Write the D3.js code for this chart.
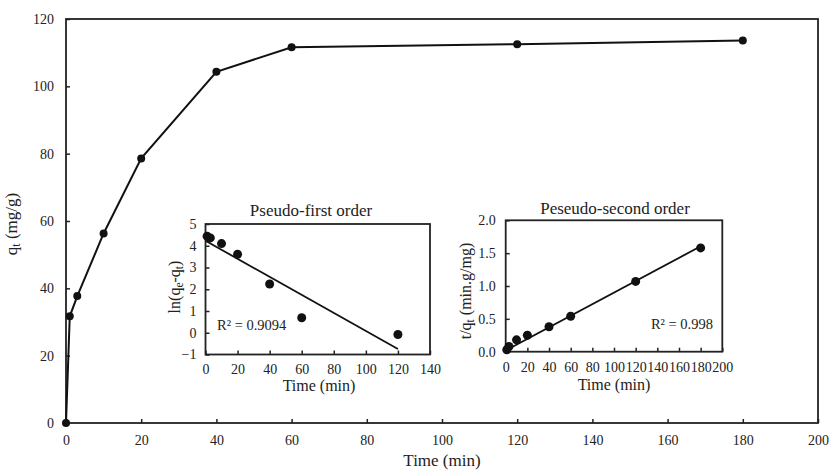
<!DOCTYPE html>
<html>
<head>
<meta charset="utf-8">
<script src="https://cdn.jsdelivr.net/npm/d3@7"></script>
<style>
	body { margin: 0; background: #fff; }
</style>
</head>
<body>
<div id="chart"></div>
<script>
// kinetics data (time in min)
var time_min = [0, 1, 3, 10, 20, 40, 60, 120, 180];
var qt_values = [0, 31.7, 37.7, 56.3, 78.6, 104.3, 111.6, 112.5, 113.6];

// pseudo-first order: ln(qe - qt)
var pfo_time = [1, 3, 10, 20, 40, 60, 120];
var pfo_values = [4.44, 4.36, 4.10, 3.61, 2.24, 0.69, -0.08];
var pfo_fit = [4.23, -0.0415]; // intercept, slope
var pfo_r2 = "R² = 0.9094";

// pseudo-second order: t / qt
var pso_time = [1, 3, 10, 20, 40, 60, 120, 180];
var pso_values = [0.03, 0.08, 0.18, 0.25, 0.38, 0.54, 1.07, 1.58];
var pso_fit = [0.02, 0.0088];
var pso_r2 = "R² = 0.998";

var main_xticks = [0, 20, 40, 60, 80, 100, 120, 140, 160, 180, 200];
var main_yticks = [0, 20, 40, 60, 80, 100, 120];
var pfo_xticks = [0, 20, 40, 60, 80, 100, 120, 140];
var pfo_yticks = [-1, 0, 1, 2, 3, 4, 5];
var pso_xticks = [0, 20, 40, 60, 80, 100, 120, 140, 160, 180, 200];
var pso_yticks = [0, 0.5, 1.0, 1.5, 2.0];

var FONT = "'Liberation Serif', 'Times New Roman', Times, serif";
var width = 829, height = 470;

var svg = d3.select("#chart").append("svg")
	.attr("width", width)
	.attr("height", height)
	.style("font-family", FONT);

// subscripted label helper: parts = [[text, isSub], ...]
function sub_text(sel, parts, size) {
	var prev_sub = false;
	parts.forEach(function(p) {
		var t = sel.append("tspan").text(p[0]);
		if (p[1]) { t.attr("font-size", size * 0.72).attr("dy", 3); prev_sub = true; }
		else if (prev_sub) { t.attr("dy", -3); prev_sub = false; }
	});
}

function style_axis(g) {
	g.select(".domain").remove();
	g.attr("font-family", null);
	g.selectAll(".tick line").attr("stroke", "#222").attr("stroke-width", 1.5);
	g.selectAll(".tick text")
		.style("font-family", FONT)
		.style("font-size", "14px")
		.attr("fill", "#222");
}

//
// Main plot
//
var xScale = d3.scaleLinear().domain([0, 200]).range([66, 818]);
var yScale = d3.scaleLinear().domain([0, 120]).range([423, 19]);

svg.append("g")
	.attr("transform", "translate(0,423)")
	.call(d3.axisBottom(xScale).tickValues(main_xticks).tickSize(-4).tickPadding(12))
	.call(style_axis);

svg.append("g")
	.attr("transform", "translate(66,0)")
	.call(d3.axisLeft(yScale).tickValues(main_yticks).tickSize(-4).tickPadding(12))
	.call(style_axis);

svg.append("rect")
	.attr("x", 66).attr("y", 19)
	.attr("width", 752).attr("height", 404)
	.attr("fill", "none").attr("stroke", "#222").attr("stroke-width", 1.8);

var mainLine = d3.line()
	.x(function(d, i) { return xScale(time_min[i]); })
	.y(function(d) { return yScale(d); });

svg.append("path")
	.datum(qt_values)
	.attr("d", mainLine)
	.attr("fill", "none").attr("stroke", "#111").attr("stroke-width", 2);

svg.selectAll(".main-dot")
	.data(qt_values)
	.enter()
	.append("circle")
	.attr("class", "main-dot")
	.attr("cx", function(d, i) { return xScale(time_min[i]); })
	.attr("cy", function(d) { return yScale(d); })
	.attr("r", 4)
	.attr("fill", "#111");

svg.append("text")
	.attr("x", 442).attr("y", 466)
	.attr("text-anchor", "middle")
	.style("font-family", FONT)
	.attr("font-size", 17)
	.attr("fill", "#222")
	.text("Time (min)");

var ylab = svg.append("text")
	.attr("transform", "translate(17,224) rotate(-90)")
	.attr("text-anchor", "middle")
	.style("font-family", FONT)
	.attr("font-size", 17)
	.attr("fill", "#222");
sub_text(ylab, [["q", false], ["t", true], [" (mg/g)", false]], 17);

//
// Inset drawing
//
function draw_inset(opt) {
	var g = svg.append("g");
	var x = d3.scaleLinear().domain(opt.xdomain).range(opt.xrange);
	var y = d3.scaleLinear().domain(opt.ydomain).range(opt.yrange);

	g.append("rect")
		.attr("x", opt.xrange[0]).attr("y", opt.yrange[1])
		.attr("width", opt.xrange[1] - opt.xrange[0])
		.attr("height", opt.yrange[0] - opt.yrange[1])
		.attr("fill", "#fff");

	g.append("g")
		.attr("transform", "translate(0," + opt.yrange[0] + ")")
		.call(d3.axisBottom(x).tickValues(opt.xticks).tickSize(-4).tickPadding(10))
		.call(style_axis);

	g.append("g")
		.attr("transform", "translate(" + opt.xrange[0] + ",0)")
		.call(d3.axisLeft(y).tickValues(opt.yticks).tickSize(-4).tickPadding(opt.ypad).tickFormat(opt.yformat))
		.call(style_axis);

	g.append("rect")
		.attr("x", opt.xrange[0]).attr("y", opt.yrange[1])
		.attr("width", opt.xrange[1] - opt.xrange[0])
		.attr("height", opt.yrange[0] - opt.yrange[1])
		.attr("fill", "none").attr("stroke", "#222").attr("stroke-width", 1.8);

	// trend line
	g.append("line")
		.attr("x1", x(opt.fitx[0])).attr("y1", y(opt.fit[0] + opt.fit[1] * opt.fitx[0]))
		.attr("x2", x(opt.fitx[1])).attr("y2", y(opt.fit[0] + opt.fit[1] * opt.fitx[1]))
		.attr("stroke", "#111").attr("stroke-width", 1.8);

	g.selectAll(".inset-dot")
		.data(opt.values)
		.enter()
		.append("circle")
		.attr("cx", function(d, i) { return x(opt.times[i]); })
		.attr("cy", function(d) { return y(d); })
		.attr("r", 4.5)
		.attr("fill", "#111");

	g.append("text")
		.attr("x", opt.title_x).attr("y", opt.title_y)
		.attr("text-anchor", "middle")
		.style("font-family", FONT)
		.attr("font-size", 17)
		.attr("fill", "#222")
		.text(opt.title);

	g.append("text")
		.attr("x", opt.xlab_x).attr("y", opt.xlab_y)
		.attr("text-anchor", "middle")
		.style("font-family", FONT)
		.attr("font-size", 16)
		.attr("fill", "#222")
		.text("Time (min)");

	var yl = g.append("text")
		.attr("transform", "translate(" + opt.ylab_x + "," + opt.ylab_y + ") rotate(-90)")
		.attr("text-anchor", "middle")
		.style("font-family", FONT)
		.attr("font-size", 16)
		.attr("fill", "#222");
	sub_text(yl, opt.ylab, 16);

	g.append("text")
		.attr("x", opt.r2_x).attr("y", opt.r2_y)
		.attr("text-anchor", opt.r2_anchor)
		.style("font-family", FONT)
		.attr("font-size", 14.5)
		.attr("fill", "#222")
		.text(opt.r2);
}

draw_inset({
	xdomain: [0, 140], xrange: [205.5, 430],
	ydomain: [-1, 5], yrange: [354.5, 224],
	xticks: pfo_xticks, yticks: pfo_yticks, yformat: d3.format("d"), ypad: 9,
	times: pfo_time, values: pfo_values,
	fit: pfo_fit, fitx: [0, 120],
	title: "Pseudo-first order", title_x: 311, title_y: 216,
	xlab_x: 319, xlab_y: 391,
	ylab: [["ln(q", false], ["e", true], ["-q", false], ["t", true], [")", false]],
	ylab_x: 180, ylab_y: 287,
	r2: pfo_r2, r2_x: 217, r2_y: 330, r2_anchor: "start"
});

draw_inset({
	xdomain: [0, 200], xrange: [505.7, 722.3],
	ydomain: [0, 2], yrange: [351.7, 220.3],
	xticks: pso_xticks, yticks: pso_yticks, yformat: d3.format(".1f"), ypad: 10,
	times: pso_time, values: pso_values,
	fit: pso_fit, fitx: [0, 180],
	title: "Peseudo-second order", title_x: 615, title_y: 214,
	xlab_x: 614, xlab_y: 390,
	ylab: [["t/q", false], ["t", true], [" (min.g/mg)", false]],
	ylab_x: 471, ylab_y: 291,
	r2: pso_r2, r2_x: 713, r2_y: 329, r2_anchor: "end"
});
</script>
</body>
</html>
